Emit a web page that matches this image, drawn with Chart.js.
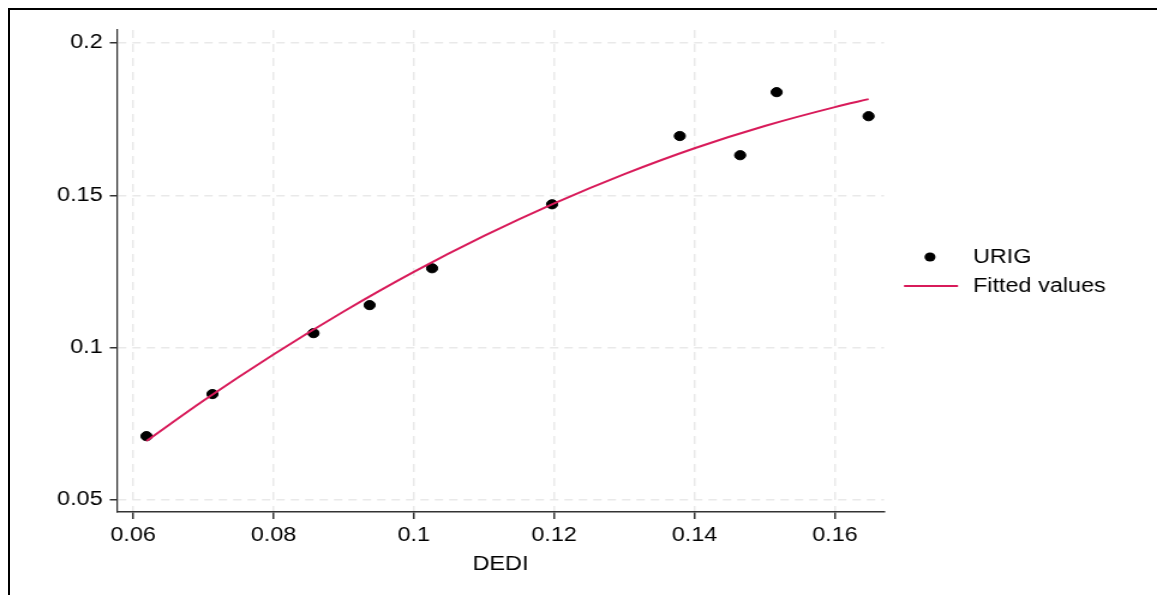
<!DOCTYPE html>
<html>
<head>
<meta charset="utf-8">
<script src="https://cdn.jsdelivr.net/npm/chart.js@4"></script>
<style>
  html, body { margin: 0; padding: 0; background: #fff; overflow: hidden; }
  #wrap { position: relative; width: 1157px; height: 595px; }
  #c { display: block; }
  #frame {
    position: absolute; left: 8px; top: 8px; right: 0; bottom: 0;
    border-top: 2px solid #000; border-left: 2px solid #000;
    pointer-events: none;
  }
</style>
</head>
<body>
<div id="wrap"><canvas id="c"></canvas><div id="frame"></div></div>
<script>
// observed points (DEDI, URIG)
const dediX = [0.0619, 0.0713, 0.0857, 0.0937, 0.1026, 0.1197, 0.1379, 0.1465, 0.1517, 0.1648];
const urigY = [0.0710, 0.0848, 0.1048, 0.1140, 0.1261, 0.1471, 0.1695, 0.1632, 0.1839, 0.1760];

// fitted curve
const fitX = [0.0619, 0.07, 0.08, 0.09, 0.10, 0.11, 0.12, 0.13, 0.14, 0.15, 0.16, 0.1648];
const fitY = [0.0694, 0.0826, 0.0978, 0.1119, 0.1249, 0.1367, 0.1474, 0.1570, 0.1655, 0.1728, 0.1790, 0.1816];

const xTicks = [0.06, 0.08, 0.1, 0.12, 0.14, 0.16];
const yTicks = [0.05, 0.1, 0.15, 0.2];

const FONT = '"Liberation Sans", Arial, Helvetica, sans-serif';
const lineColor = '#d81b5a';

// the reference is stretched sideways, so draw narrow and widen with css
const W = 964, H = 595, S = 1157 / W;

function toXY(xs, ys) {
    let out = []
    for (let i = 0; i < xs.length; i++)
        out.push({x: xs[i], y: ys[i]})
    return out
}

const legendPlugin = {
    id: 'stataLegend',
    afterDraw(chart) {
        const ctx = chart.ctx;
        ctx.save();
        ctx.fillStyle = '#000';
        ctx.beginPath();
        ctx.arc(930 / S, 257, 4.6, 0, Math.PI * 2);
        ctx.fill();
        ctx.strokeStyle = lineColor;
        ctx.lineWidth = 2;
        ctx.beginPath();
        ctx.moveTo(904 / S, 286);
        ctx.lineTo(958 / S, 286);
        ctx.stroke();
        ctx.font = '19.5px ' + FONT;
        ctx.textBaseline = 'middle';
        ctx.textAlign = 'left';
        ctx.fillStyle = '#000';
        ctx.fillText('URIG', 973 / S, 258);
        ctx.fillText('Fitted values', 973 / S, 287);
        ctx.restore();
    }
};

const data = {
    datasets: [{
            type: 'scatter',
            label: 'URIG',
            data: toXY(dediX, urigY),
            backgroundColor: '#000',
            borderColor: '#000',
            pointRadius: 4.6,
            pointHoverRadius: 4.6,
            order: 2
        }, {
            type: 'line',
            label: 'Fitted values',
            data: toXY(fitX, fitY),
            borderColor: lineColor,
            borderWidth: 2,
            pointRadius: 0,
            fill: false,
            cubicInterpolationMode: 'monotone',
            order: 1
        }]
};

const gridOpts = {
    color: '#e9e9e9', lineWidth: 1.5,
    tickColor: '#333', tickWidth: 1.5, tickBorderDash: []
};

const config = {
    type: 'scatter',
    data: data,
    options: {
        responsive: false,
        animation: false,
        devicePixelRatio: 1,
        layout: {padding: {left: 0, top: 30, right: 273 / S, bottom: 0}},
        plugins: {legend: {display: false}, tooltip: {enabled: false}},
        scales: {
            x: {
                type: 'linear',
                min: 0.0577,
                max: 0.167,
                afterFit: s => { s.height = 83 },
                afterBuildTicks: s => { s.ticks = xTicks.map(v => ({value: v})) },
                border: {color: '#333', width: 1.5, dash: [8, 6]},
                grid: Object.assign({tickLength: 7}, gridOpts),
                ticks: {
                    color: '#000', padding: 5, maxRotation: 0,
                    font: {family: FONT, size: 19.5},
                    callback: v => String(v)
                },
                title: {
                    display: true, text: 'DEDI', color: '#000',
                    font: {family: FONT, size: 19.5},
                    padding: {top: 4, bottom: 19}
                }
            },
            y: {
                type: 'linear',
                min: 0.0461,
                max: 0.2043,
                afterFit: s => { s.width = 117 / S },
                afterBuildTicks: s => { s.ticks = yTicks.map(v => ({value: v})) },
                border: {color: '#333', width: 1.5 / S, dash: [7, 5]},
                grid: Object.assign({tickLength: 6}, gridOpts),
                ticks: {
                    color: '#000', padding: 6,
                    font: {family: FONT, size: 19.5},
                    callback: v => String(v)
                }
            }
        }
    },
    plugins: [legendPlugin]
};

const cv = document.getElementById('c');
cv.width = W;
cv.height = H;
cv.style.width = '1157px';
cv.style.height = H + 'px';
new Chart(cv.getContext('2d'), config);
</script>
</body>
</html>
